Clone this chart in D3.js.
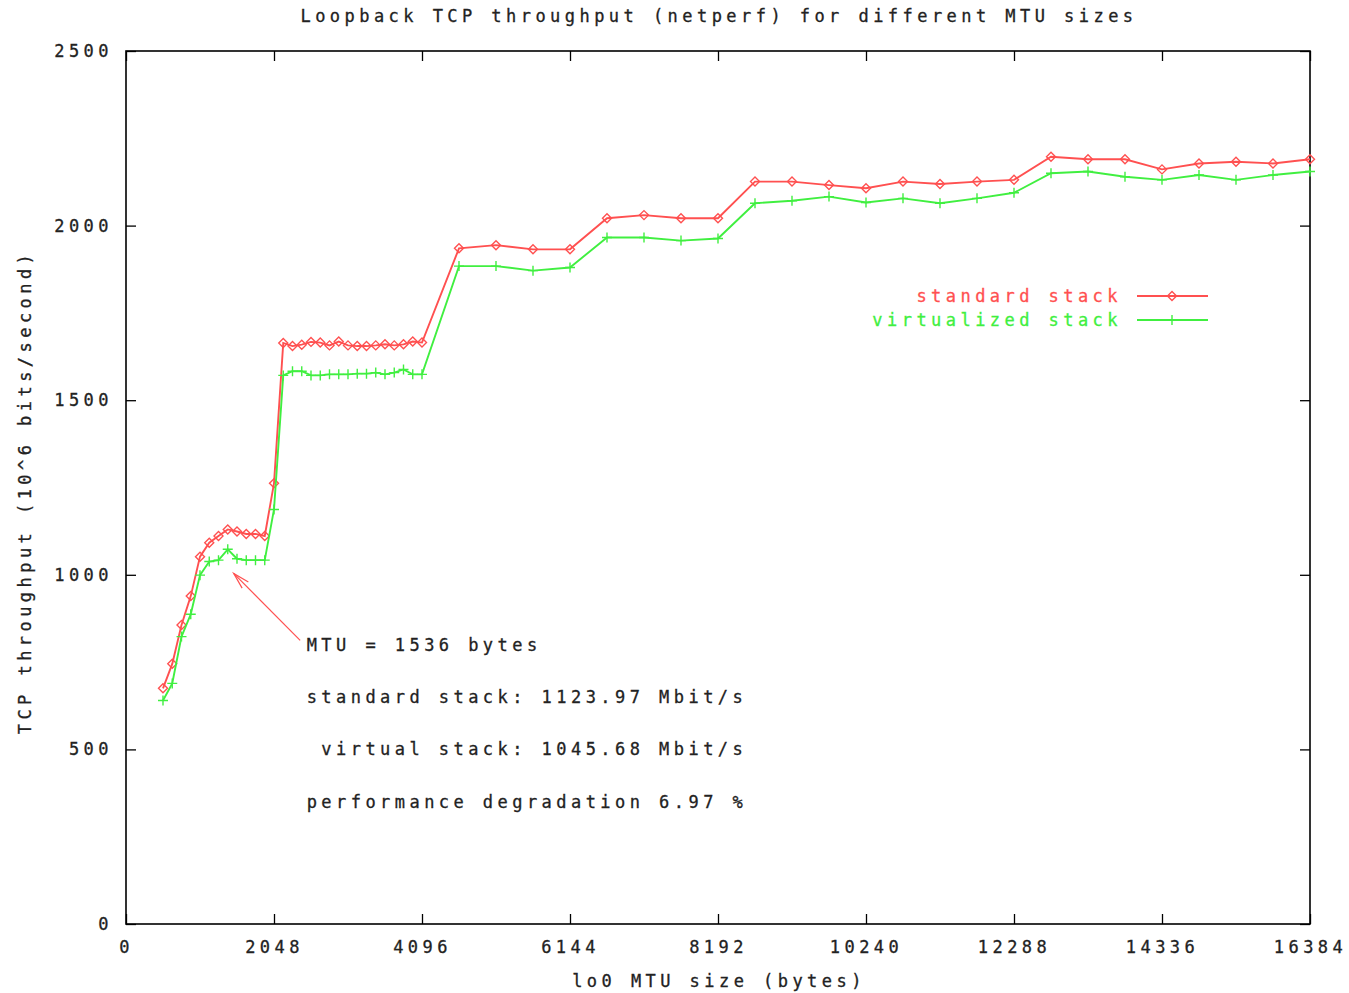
<!DOCTYPE html>
<html>
<head>
<meta charset="utf-8">
<script src="https://cdn.jsdelivr.net/npm/d3@7"></script>
<style>
  body { margin: 0; background: #fff; }
  text { font-family: "DejaVu Sans Mono", monospace; font-size: 17px; letter-spacing: 4.45px; stroke-width: 0.3px; }
</style>
</head>
<body>
<svg width="1349" height="993"></svg>
<script>
// MTU sizes (bytes) where netperf was run
const mtu = [
  512, 640, 768, 896, 1024, 1152, 1280, 1408, 1536, 1664, 1792, 1920, 2048,
  2176, 2304, 2432, 2560, 2688, 2816, 2944, 3072, 3200, 3328, 3456, 3584, 3712, 3840, 3968, 4096,
  4608, 5120, 5632, 6144, 6656, 7168, 7680, 8192, 8704, 9216, 9728, 10240, 10752, 11264,
  11776, 12288, 12800, 13312, 13824, 14336, 14848, 15360, 15872, 16384
];

// throughput, 10^6 bits/second
const standardStack = [
  675, 745, 856, 939, 1052, 1092, 1111, 1130, 1124, 1117, 1117, 1111, 1262,
  1664, 1655, 1659, 1667, 1665, 1657, 1668, 1657, 1655, 1655, 1657, 1660, 1657, 1660, 1668, 1665,
  1935, 1944, 1932, 1932, 2021, 2030, 2021, 2021, 2126, 2126, 2116, 2107, 2126, 2119,
  2126, 2131, 2197, 2190, 2190, 2161, 2178, 2183, 2178, 2190
];

const virtualizedStack = [
  640, 689, 823, 887, 999, 1038, 1042, 1073, 1046, 1042, 1042, 1042, 1187,
  1571, 1583, 1583, 1571, 1571, 1574, 1574, 1574, 1576, 1576, 1579, 1574, 1579, 1588, 1574, 1574,
  1884, 1884, 1871, 1880, 1966, 1966, 1957, 1963, 2064, 2071, 2083, 2066, 2078, 2064,
  2078, 2094, 2150, 2155, 2140, 2131, 2145, 2131, 2145, 2155
];

const xTicks = [0, 2048, 4096, 6144, 8192, 10240, 12288, 14336, 16384];
const yTicks = [0, 500, 1000, 1500, 2000, 2500];

const seriesNames = ["standard stack", "virtualized stack"];
const annotation = [
  "MTU = 1536 bytes",
  "standard stack: 1123.97 Mbit/s",
  "\u00a0virtual stack: 1045.68 Mbit/s",
  "performance degradation 6.97 %"
];
const annotationY = [800, 650, 500, 350];

const svg = d3.select("svg");
const margin = {top: 51, right: 39, bottom: 69, left: 126};
const width = 1349 - margin.left - margin.right;
const height = 993 - margin.top - margin.bottom;

const x = d3.scaleLinear().domain([0, 16384]).range([0, width]);
const y = d3.scaleLinear().domain([0, 2500]).range([height, 0]);

const red = "#ff5050";
const green = "#40ef40";

const g = svg.append("g")
  .attr("transform", `translate(${margin.left},${margin.top})`);

// ticks on all four sides, pointing inwards
g.append("g")
  .attr("transform", `translate(0,${height})`)
  .call(d3.axisBottom(x).tickValues(xTicks).tickSize(-10).tickPadding(17).tickFormat(d3.format("d")))
  .call(a => a.select(".domain").remove());

g.append("g")
  .call(d3.axisTop(x).tickValues(xTicks).tickSize(-10).tickFormat(""))
  .call(a => a.select(".domain").remove());

g.append("g")
  .call(d3.axisLeft(y).tickValues(yTicks).tickSize(-10).tickPadding(13).tickFormat(d3.format("d")))
  .call(a => a.select(".domain").remove());

g.append("g")
  .attr("transform", `translate(${width},0)`)
  .call(d3.axisRight(y).tickValues(yTicks).tickSize(-10).tickFormat(""))
  .call(a => a.select(".domain").remove());

g.selectAll(".tick line").attr("stroke", "#000").attr("stroke-width", 1.3);
g.selectAll(".tick text")
  .attr("fill", "#222")
  .attr("stroke", "#222")
  .style("font-family", "\"DejaVu Sans Mono\", monospace")
  .style("font-size", "17px");

g.append("rect")
  .attr("width", width)
  .attr("height", height)
  .attr("fill", "none")
  .attr("stroke", "#000")
  .attr("stroke-width", 1.6);

// titles
svg.append("text")
  .attr("x", 719)
  .attr("y", 22)
  .attr("text-anchor", "middle")
  .attr("fill", "#222").attr("stroke", "#222")
  .text("Loopback TCP throughput (netperf) for different MTU sizes");

svg.append("text")
  .attr("x", 719)
  .attr("y", 987)
  .attr("text-anchor", "middle")
  .attr("fill", "#222").attr("stroke", "#222")
  .text("lo0 MTU size (bytes)");

svg.append("text")
  .attr("transform", "translate(31,492) rotate(-90)")
  .attr("text-anchor", "middle")
  .attr("fill", "#222").attr("stroke", "#222")
  .text("TCP throughput (10^6 bits/second)");

// series
const diamond = "M0,-4.5L4.5,0L0,4.5L-4.5,0Z";
const plus = "M-5,0H5M0,-5V5";

const series = [
  {name: seriesNames[0], values: standardStack, color: red, marker: diamond},
  {name: seriesNames[1], values: virtualizedStack, color: green, marker: plus}
];

const line = d3.line()
  .x((d, i) => x(mtu[i]))
  .y(d => y(d));

series.forEach(s => {
  g.append("path")
    .attr("d", line(s.values))
    .attr("fill", "none")
    .attr("stroke", s.color)
    .attr("stroke-width", 1.9);

  g.selectAll(null)
    .data(s.values)
    .enter().append("path")
    .attr("transform", (d, i) => `translate(${x(mtu[i])},${y(d)})`)
    .attr("d", s.marker)
    .attr("fill", "none")
    .attr("stroke", s.color)
    .attr("stroke-width", 1.4);
});

// legend
const legend = svg.selectAll(".legend")
  .data(series)
  .enter().append("g")
  .attr("class", "legend")
  .attr("transform", (d, i) => `translate(0,${296 + i * 24})`);

legend.append("text")
  .attr("x", 1122)
  .attr("y", 6)
  .attr("text-anchor", "end")
  .attr("fill", d => d.color)
  .attr("stroke", d => d.color)
  .text(d => d.name);

legend.append("line")
  .attr("x1", 1137)
  .attr("x2", 1208)
  .attr("stroke", d => d.color)
  .attr("stroke-width", 1.9);

legend.append("path")
  .attr("transform", "translate(1172,0)")
  .attr("d", d => d.marker)
  .attr("fill", "none")
  .attr("stroke", d => d.color)
  .attr("stroke-width", 1.4);

// annotation
annotation.forEach((t, i) => {
  g.append("text")
    .attr("x", x(2500))
    .attr("y", y(annotationY[i]) + 6)
    .attr("fill", "#222")
    .attr("stroke", "#222")
    .text(t);
});

const a0 = [x(2410), y(812)];
const a1 = [x(1490), y(1004)];
g.append("line")
  .attr("x1", a0[0]).attr("y1", a0[1])
  .attr("x2", a1[0]).attr("y2", a1[1])
  .attr("stroke", red)
  .attr("stroke-width", 1.2);

const ang = Math.atan2(a0[1] - a1[1], a0[0] - a1[0]);
const head = [-0.26, 0.26].map(da => [a1[0] + 17 * Math.cos(ang + da), a1[1] + 17 * Math.sin(ang + da)]);
g.append("path")
  .attr("d", `M${head[0]}L${a1}L${head[1]}`)
  .attr("fill", "none")
  .attr("stroke", red)
  .attr("stroke-width", 1.2);
</script>
</body>
</html>
